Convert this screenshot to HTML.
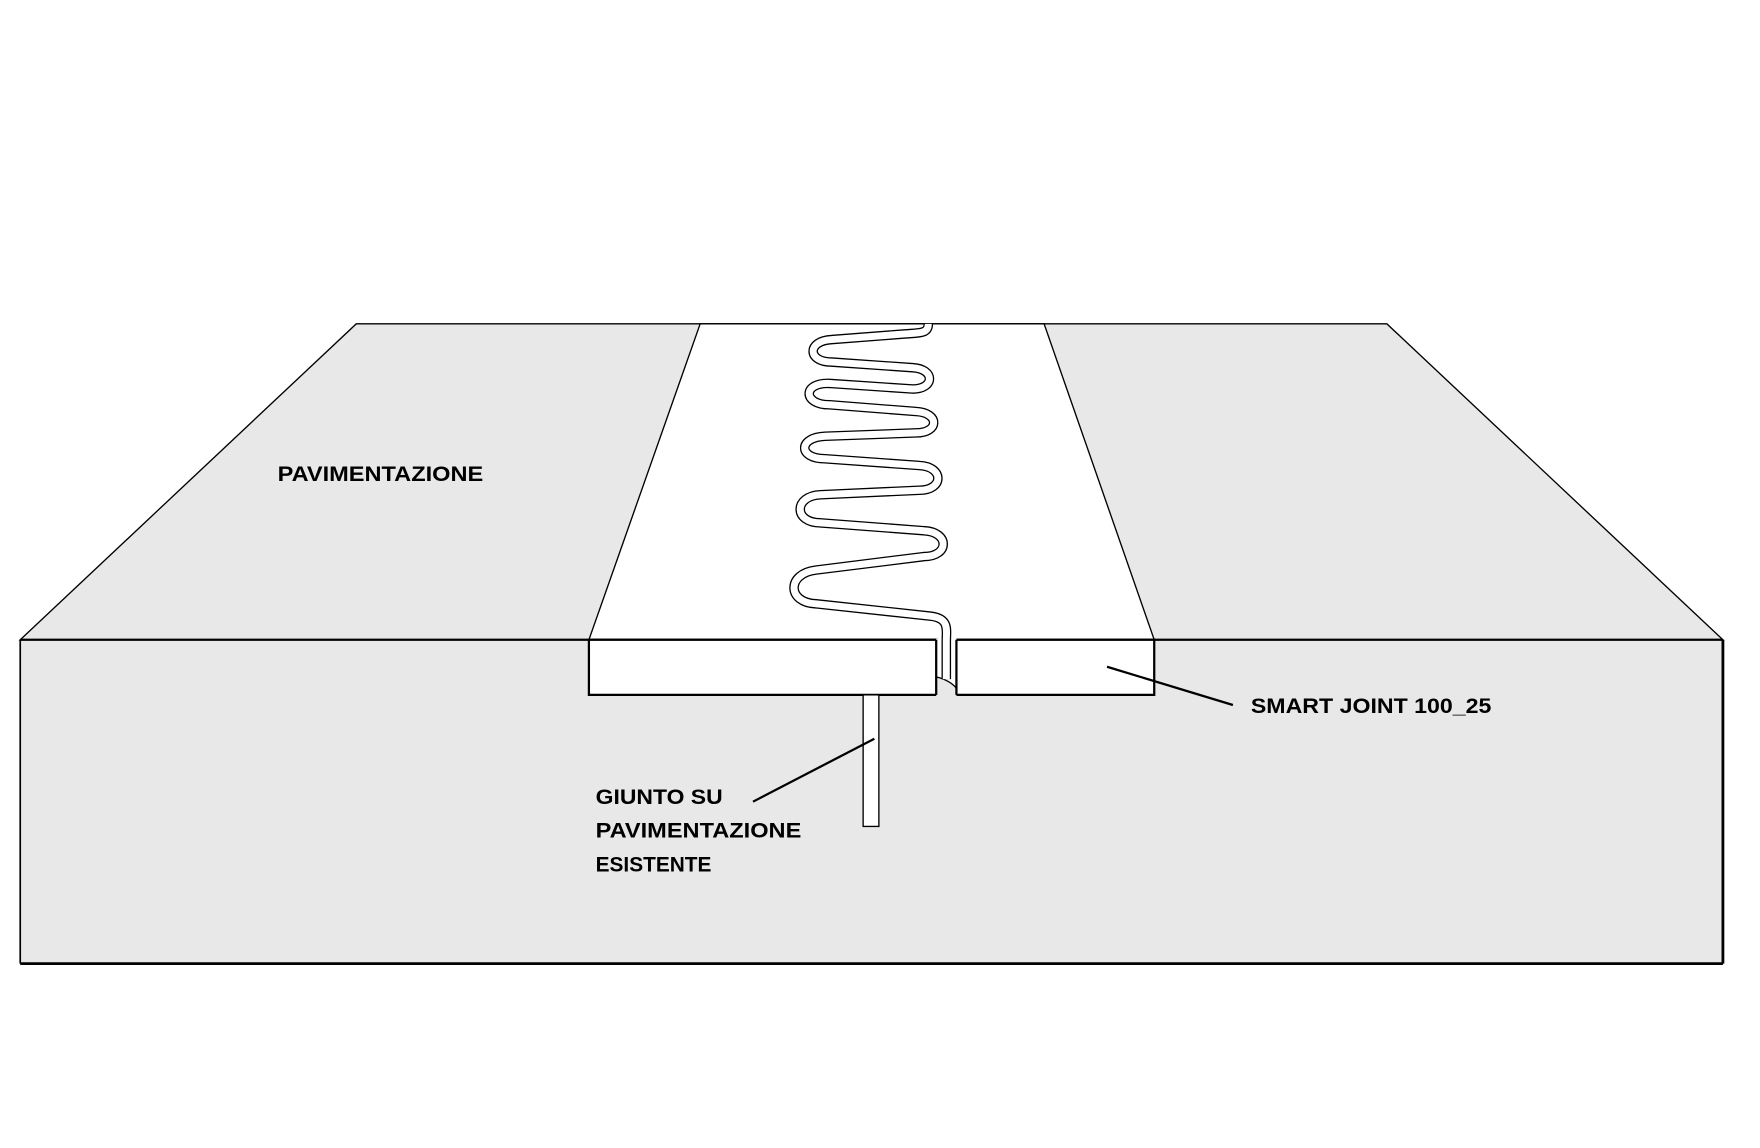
<!DOCTYPE html>
<html><head><meta charset="utf-8"><style>
html,body{margin:0;padding:0;background:#fff;}
svg{display:block;}
text{font-family:"Liberation Sans",sans-serif;font-weight:bold;font-size:19px;fill:#000;}
</style></head><body>
<svg width="1760" height="1148" viewBox="0 0 1566 1021" preserveAspectRatio="none" xmlns="http://www.w3.org/2000/svg">
<rect width="1566" height="1021" fill="#fff"/>
<polygon points="317,288 1234,288 1533,569 18,569" fill="#e8e8e8" stroke="#000" stroke-width="1.2"/>
<polygon points="623,288 929,288 1027,569 524,569" fill="#fff" stroke="#000" stroke-width="1.2"/>
<rect x="18" y="569" width="1515" height="288" fill="#e8e8e8"/>
<line x1="18" y1="569" x2="1533" y2="569" stroke="#000" stroke-width="2"/>
<line x1="18" y1="857" x2="1533" y2="857" stroke="#000" stroke-width="2.5"/>
<line x1="1533" y1="569" x2="1533" y2="857" stroke="#000" stroke-width="2.5"/>
<line x1="18" y1="569" x2="18" y2="857" stroke="#000" stroke-width="1.5"/>
<rect x="524" y="569" width="503" height="49" fill="#fff" stroke="#000" stroke-width="2"/>
<rect x="833" y="568" width="18" height="52" fill="#e8e8e8"/>
<path d="M833,569 L833,602 Q845,605 851,612 L851,560 Z" fill="#fff"/>
<line x1="833" y1="569" x2="833" y2="618" stroke="#000" stroke-width="2"/>
<line x1="851" y1="569" x2="851" y2="618" stroke="#000" stroke-width="2"/>
<path d="M833,602 Q845,605 851,612" fill="none" stroke="#000" stroke-width="1.2"/>
<g fill="none" stroke-linejoin="round">
<path d="M826,288 C826,297 818,296 805,297 L740,302 C718,303 718,322 740,322 L812,327 C832,328 832,346 812,346 L738,341 C714,340 714,360 738,360 L815,366 C836,367 836,385 815,385 L734,388 C710,389 710,408 734,408 L818,414 C840,415 840,436 818,436 L730,440 C706,441 706,465 730,465 L822,472 C845,473 845,495 822,495 L726,507 C700,510 700,536 726,537 L828,548 C845,550 842,560 842,570 L842,604" stroke="#000" stroke-width="8.5"/>
<path d="M826,288 C826,297 818,296 805,297 L740,302 C718,303 718,322 740,322 L812,327 C832,328 832,346 812,346 L738,341 C714,340 714,360 738,360 L815,366 C836,367 836,385 815,385 L734,388 C710,389 710,408 734,408 L818,414 C840,415 840,436 818,436 L730,440 C706,441 706,465 730,465 L822,472 C845,473 845,495 822,495 L726,507 C700,510 700,536 726,537 L828,548 C845,550 842,560 842,570 L842,604" stroke="#fff" stroke-width="6.2"/>
</g>
<rect x="768" y="618" width="14" height="117" fill="#fff" stroke="#000" stroke-width="1.2"/>
<line x1="778" y1="657" x2="670" y2="713" stroke="#000" stroke-width="2"/>
<line x1="985" y1="593" x2="1097" y2="627" stroke="#000" stroke-width="2"/>
<text x="247" y="428" textLength="183" lengthAdjust="spacingAndGlyphs">PAVIMENTAZIONE</text>
<text x="1113" y="634" textLength="214" lengthAdjust="spacingAndGlyphs">SMART JOINT 100_25</text>
<text x="530" y="715" textLength="113" lengthAdjust="spacingAndGlyphs">GIUNTO SU</text>
<text x="530" y="745" textLength="183" lengthAdjust="spacingAndGlyphs">PAVIMENTAZIONE</text>
<text x="530" y="775" textLength="103" lengthAdjust="spacingAndGlyphs">ESISTENTE</text>
</svg>
</body></html>
